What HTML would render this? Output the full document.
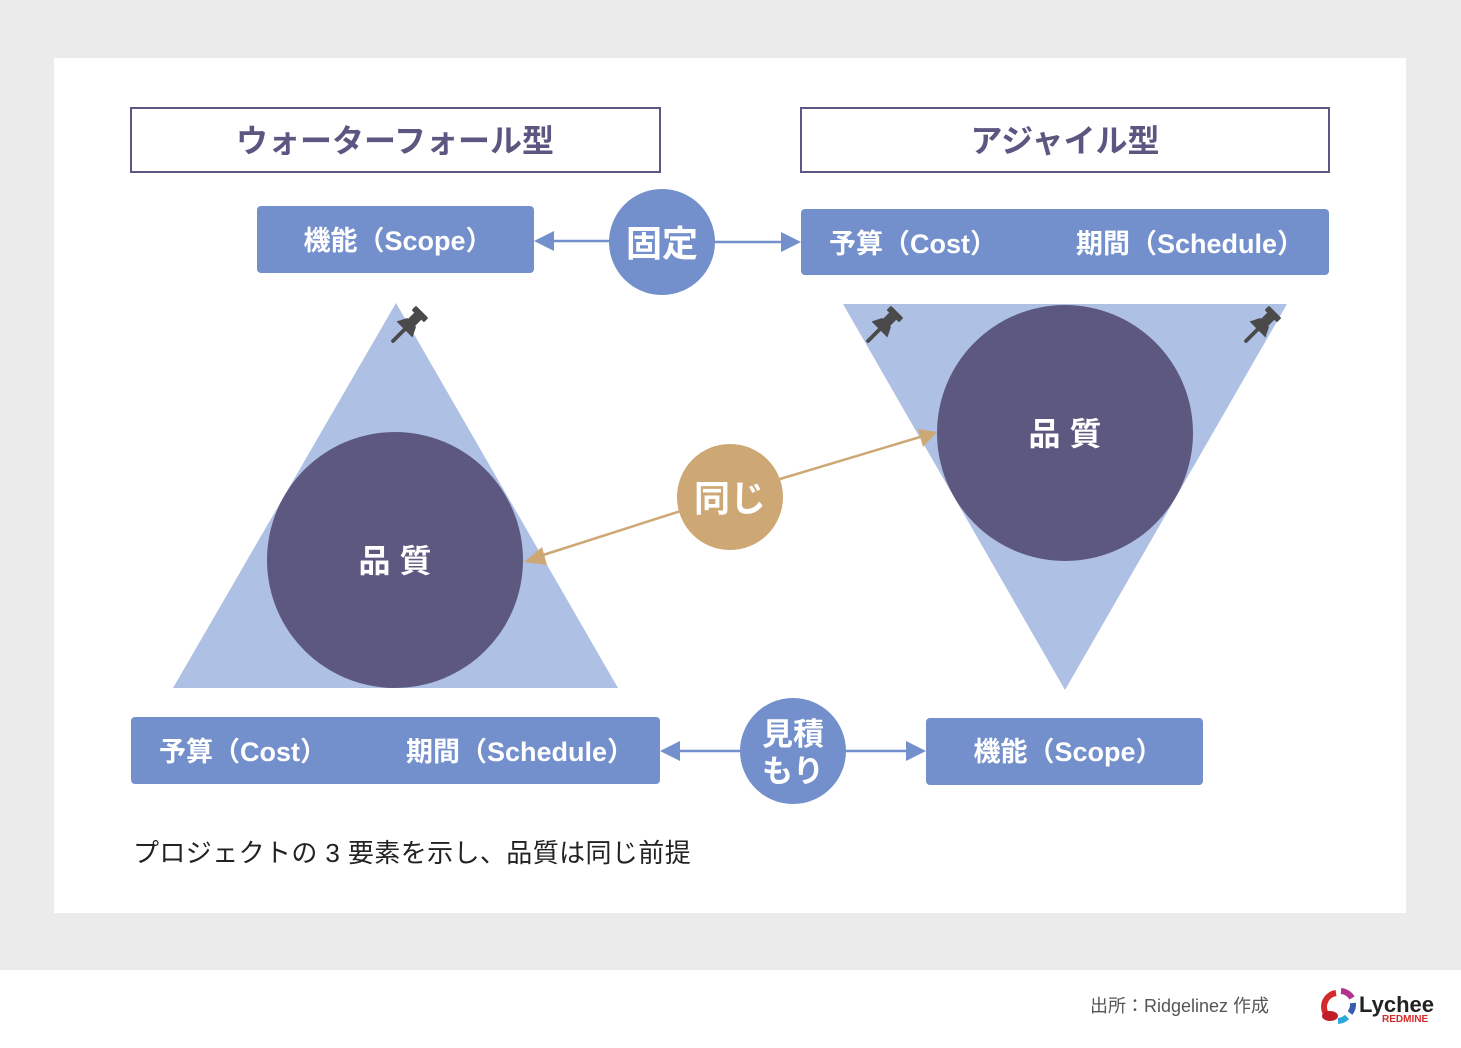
<!DOCTYPE html>
<html><head><meta charset="utf-8"><style>
body{margin:0;width:1461px;height:1043px;overflow:hidden;background:#fff}
svg text{font-family:"Liberation Sans","Noto Sans CJK JP",sans-serif}
</style></head><body>
<svg width="1461" height="1043" viewBox="0 0 1461 1043" xmlns="http://www.w3.org/2000/svg">
<defs>
<g id="pin"><g transform="rotate(45) scale(1.25)" fill="#4a4a4a">
<line x1="0" y1="0" x2="0" y2="-14" stroke="#4a4a4a" stroke-width="3" stroke-linecap="round"/>
<polygon points="-9,-13 9,-13 5,-21 -5,-21"/>
<rect x="-4" y="-30" width="8" height="10"/>
<rect x="-7" y="-33" width="14" height="5" rx="1"/>
</g></g>
</defs>
<rect width="1461" height="970" fill="#ebebeb"/>
<rect x="54" y="58" width="1352" height="855" fill="#fff"/>
<rect x="131" y="108" width="529" height="64" fill="none" stroke="#5c5680" stroke-width="2"/>
<rect x="801" y="108" width="528" height="64" fill="none" stroke="#5c5680" stroke-width="2"/>
<text x="395" y="152" font-size="32" font-weight="bold" fill="#5c5680" text-anchor="middle">ウォーターフォール型</text>
<text x="1065" y="152" font-size="32" font-weight="bold" fill="#5c5680" text-anchor="middle">アジャイル型</text>

<g fill="#7490cc">
<rect x="257" y="206" width="277" height="67" rx="4"/>
<rect x="801" y="209" width="528" height="66" rx="4"/>
<rect x="131" y="717" width="529" height="67" rx="4"/>
<rect x="926" y="718" width="277" height="67" rx="4"/>
</g>
<g font-size="27" font-weight="bold" fill="#fff" text-anchor="middle">
<text x="398" y="250">機能（Scope）</text>
<text x="913" y="253">予算（Cost）</text>
<text x="1190" y="253">期間（Schedule）</text>
<text x="243" y="761">予算（Cost）</text>
<text x="520" y="761">期間（Schedule）</text>
<text x="1068" y="761">機能（Scope）</text>
</g>

<g stroke="#7490cc" stroke-width="2.5" fill="#7490cc">
<line x1="552" y1="241" x2="612" y2="241"/><polygon points="534,241 554,231 554,251" stroke="none"/>
<line x1="712" y1="242" x2="782" y2="242"/><polygon points="801,242 781,232 781,252" stroke="none"/>
<line x1="678" y1="751" x2="742" y2="751"/><polygon points="660,751 680,741 680,761" stroke="none"/>
<line x1="843" y1="751" x2="908" y2="751"/><polygon points="926,751 906,741 906,761" stroke="none"/>
</g>

<polygon points="396,303 173,688 618,688" fill="#aec0e4"/>
<polygon points="843,304 1287,304 1065,690" fill="#aec0e4"/>
<circle cx="395" cy="560" r="128" fill="#5d5880"/>
<circle cx="1065" cy="433" r="128" fill="#5d5880"/>
<text x="395" y="572" font-size="32" font-weight="bold" fill="#fff" text-anchor="middle">品 質</text>
<text x="1065" y="445" font-size="32" font-weight="bold" fill="#fff" text-anchor="middle">品 質</text>

<use href="#pin" x="393" y="341"/>
<use href="#pin" x="868" y="341"/>
<use href="#pin" x="1246" y="341"/>

<g stroke="#cda874" stroke-width="2.5" fill="#cda874">
<line x1="540" y1="556" x2="690" y2="508"/><polygon points="524,562 542,547 547,565" stroke="none"/>
<line x1="770" y1="482" x2="920" y2="437"/><polygon points="937,432 918,429 923,447" stroke="none"/>
</g>

<circle cx="662" cy="242" r="53" fill="#7490cc"/>
<text x="662" y="256" font-size="36" font-weight="bold" fill="#fff" text-anchor="middle">固定</text>
<circle cx="730" cy="497" r="53" fill="#cda874"/>
<text x="730" y="511" font-size="36" font-weight="bold" fill="#fff" text-anchor="middle">同じ</text>
<circle cx="793" cy="751" r="53" fill="#7490cc"/>
<text x="793" y="745" font-size="31" font-weight="bold" fill="#fff" text-anchor="middle">見積</text>
<text x="793" y="782" font-size="31" font-weight="bold" fill="#fff" text-anchor="middle">もり</text>

<text x="133" y="862" font-size="26" letter-spacing="0.4" fill="#222">プロジェクトの 3 要素を示し、品質は同じ前提</text>

<text x="1090" y="1012" font-size="18" fill="#555">出所：Ridgelinez 作成</text>
<g fill="none" stroke-width="6">
<path d="M1336 993 A14 14 0 0 0 1326 1014" stroke="#d42a2a"/>
<path d="M1341 991 A14 14 0 0 1 1352 998" stroke="#b0358a"/>
<path d="M1353 1003 A14 14 0 0 1 1350 1013" stroke="#3a5bb0"/>
<path d="M1347 1017 A14 14 0 0 1 1338 1021" stroke="#2aa8d8"/>
</g>
<ellipse cx="1330" cy="1016" rx="8" ry="5" fill="#c01f2a"/>
<text x="1359" y="1012" font-size="22" font-weight="bold" fill="#222">Lychee</text>
<text x="1382" y="1022" font-size="10" font-weight="bold" fill="#d42a2a">REDMINE</text>
</svg>
</body></html>
